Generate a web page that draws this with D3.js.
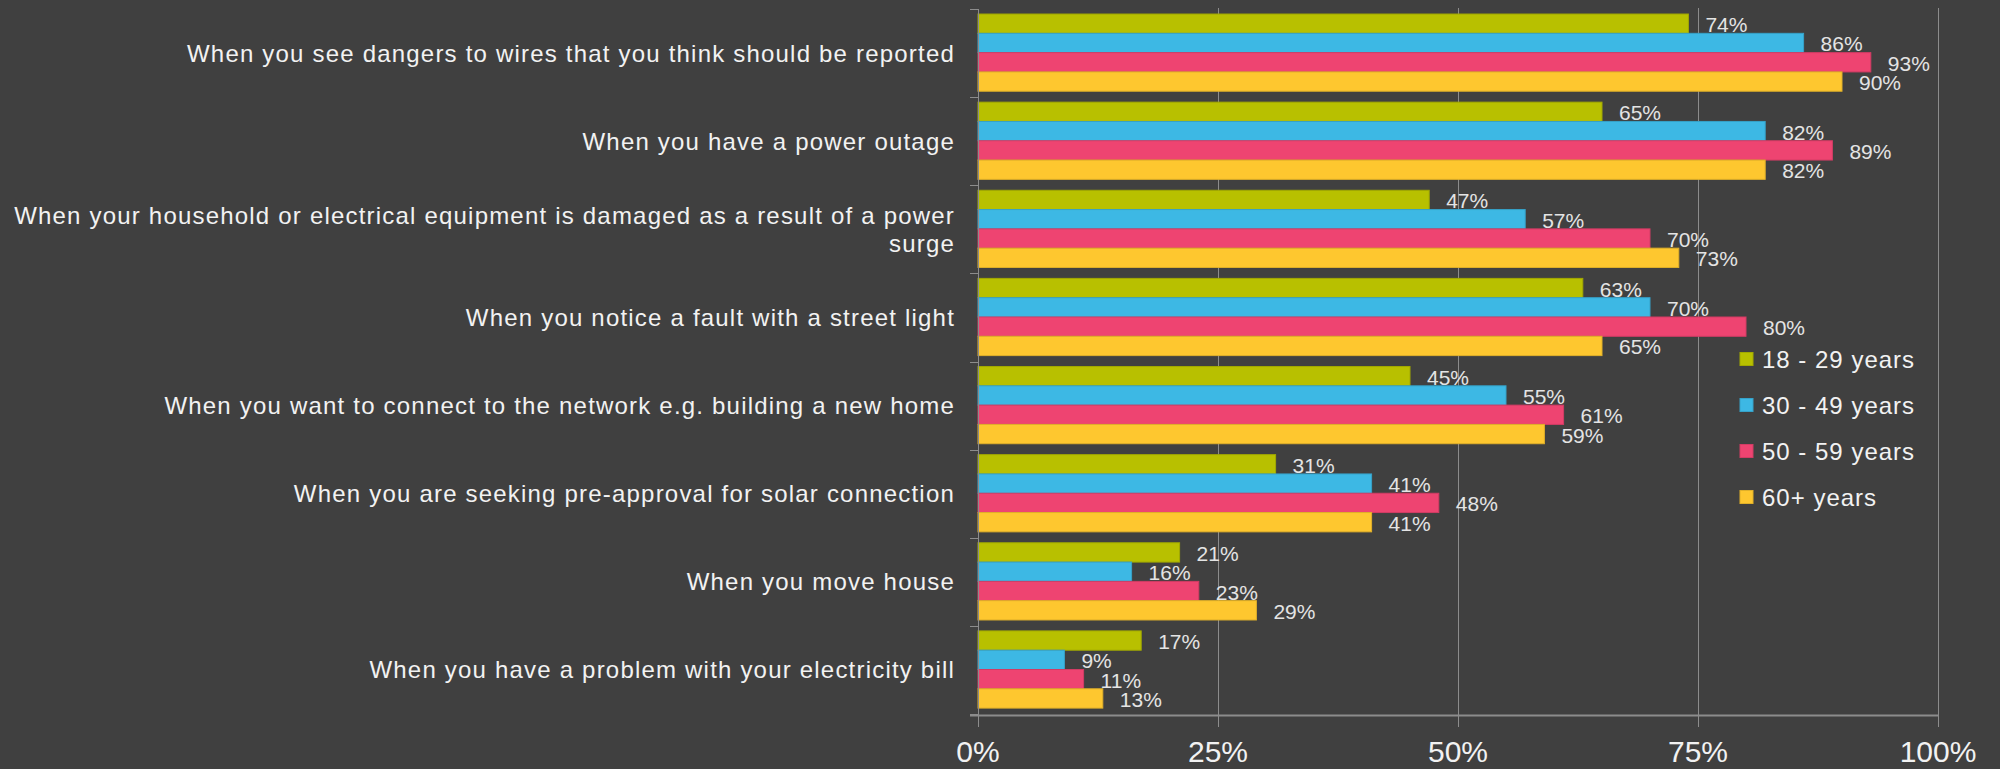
<!DOCTYPE html>
<html>
<head>
<meta charset="utf-8">
<script src="https://cdn.jsdelivr.net/npm/d3@7"></script>
<style>
  html, body { margin: 0; padding: 0; background: #404040; }
  svg { display: block; }
</style>
</head>
<body>
<svg id="chart" width="2000" height="769"></svg>
<script>
// Reasons for contacting the network operator, by age group (% of respondents)
const categories = [
  "When you see dangers to wires that you think should be reported",
  "When you have a power outage",
  "When your household or electrical equipment is damaged as a result of a power surge",
  "When you notice a fault with a street light",
  "When you want to connect to the network e.g. building a new home",
  "When you are seeking pre-approval for solar connection",
  "When you move house",
  "When you have a problem with your electricity bill"
];
const seriesNames = ["18 - 29 years", "30 - 49 years", "50 - 59 years", "60+ years"];
const age18to29 = [74, 65, 47, 63, 45, 31, 21, 17];
const age30to49 = [86, 82, 57, 70, 55, 41, 16, 9];
const age50to59 = [93, 89, 70, 80, 61, 48, 23, 11];
const age60plus = [90, 82, 73, 65, 59, 41, 29, 13];
const xTicks = [0, 25, 50, 75, 100];
const colors = ["#b8c000", "#3db8e4", "#ee4471", "#fec72f"];

const seriesValues = [age18to29, age30to49, age50to59, age60plus];

const svg = d3.select("#chart");
const W = 2000, H = 769;
svg.append("rect").attr("width", W).attr("height", H).attr("fill", "#404040");

const x = d3.scaleLinear().domain([0, 100]).range([978, 1938]);
const y = d3.scaleBand().domain(categories).range([9, 714]).paddingInner(0).paddingOuter(0);
const bw = y.bandwidth();
const yInner = d3.scaleBand().domain(seriesNames).range([bw * 0.057, bw * 0.933]);

const axisColor = "#8c8c8c";
const font = "Arial, 'Liberation Sans', sans-serif";

// vertical gridlines, running below the axis as tick marks
svg.append("g").selectAll("line").data(xTicks.slice(1)).join("line")
  .attr("x1", d => Math.round(x(d)) + 0.5).attr("x2", d => Math.round(x(d)) + 0.5)
  .attr("y1", 8).attr("y2", 727)
  .attr("stroke", axisColor).attr("stroke-width", 1);

// bars
const rows = categories.map((c, i) => ({ c, vals: seriesValues.map((s, k) => ({ name: seriesNames[k], v: s[i], k })) }));
const groups = svg.append("g").selectAll("g").data(rows).join("g")
  .attr("transform", d => `translate(0,${y(d.c)})`);

groups.selectAll("rect").data(d => d.vals).join("rect")
  .attr("x", x(0))
  .attr("y", d => yInner(d.name))
  .attr("width", d => x(d.v) - x(0))
  .attr("height", yInner.bandwidth())
  .attr("fill", d => colors[d.k])
  .attr("stroke", d => d3.color(colors[d.k]).darker(0.35))
  .attr("stroke-width", 1);

// value labels
groups.selectAll("text").data(d => d.vals).join("text")
  .attr("x", d => x(d.v) + 17)
  .attr("y", d => yInner(d.name) + yInner.bandwidth() / 2 + 8.5)
  .attr("fill", "#e4e4e4")
  .attr("font-family", font)
  .attr("font-size", 21)
  .text(d => d.v + "%");

// left axis line with category ticks
svg.append("line")
  .attr("x1", x(0) + 0.5).attr("x2", x(0) + 0.5).attr("y1", 9).attr("y2", 727)
  .attr("stroke", axisColor).attr("stroke-width", 1);
const boundaries = categories.map(c => y(c)).concat([y.range()[1]]);
svg.append("g").selectAll("line").data(boundaries).join("line")
  .attr("x1", 970).attr("x2", x(0))
  .attr("y1", d => Math.round(d) + 0.5).attr("y2", d => Math.round(d) + 0.5)
  .attr("stroke", axisColor).attr("stroke-width", 1);

// bottom axis line
svg.append("line")
  .attr("x1", 970).attr("x2", x(100) + 1).attr("y1", 715.5).attr("y2", 715.5)
  .attr("stroke", axisColor).attr("stroke-width", 2);

// x tick labels
svg.append("g").selectAll("text").data(xTicks).join("text")
  .attr("x", d => x(d)).attr("y", 762)
  .attr("text-anchor", "middle")
  .attr("fill", "#f2f2f2")
  .attr("font-family", font)
  .attr("font-size", 30)
  .text(d => d + "%");

// category labels, wrapped to the space left of the axis
const labelRight = 955, maxWidth = 950, lineH = 28;
const catLabels = svg.append("g").selectAll("text").data(categories).join("text")
  .attr("text-anchor", "end")
  .attr("fill", "#f2f2f2")
  .attr("font-family", font)
  .attr("font-size", 24)
  .attr("letter-spacing", 1.2);

catLabels.each(function(c) {
  const t = d3.select(this);
  const words = c.split(" ");
  const lines = [];
  let line = [];
  const probe = t.append("tspan");
  words.forEach(w => {
    const test = line.concat([w]).join(" ");
    probe.text(test);
    if (probe.node().getComputedTextLength() > maxWidth && line.length) {
      lines.push(line.join(" "));
      line = [w];
    } else {
      line.push(w);
    }
  });
  lines.push(line.join(" "));
  probe.remove();
  const cy = y(c) + bw / 2;
  const firstBase = cy + 8.5 - (lines.length - 1) * lineH / 2;
  lines.forEach((l, i) => {
    t.append("tspan").attr("x", labelRight).attr("y", firstBase + i * lineH).text(l);
  });
});

// legend
const legend = svg.append("g").selectAll("g").data(seriesNames).join("g")
  .attr("transform", (d, i) => `translate(1740,${359 + i * 46})`);
legend.append("rect")
  .attr("x", 0).attr("y", -6.5).attr("width", 13).attr("height", 13)
  .attr("fill", (d, i) => colors[i])
  .attr("stroke", (d, i) => d3.color(colors[i]).darker(0.35));
legend.append("text")
  .attr("x", 22).attr("y", 8.5)
  .attr("fill", "#f2f2f2")
  .attr("font-family", font)
  .attr("font-size", 24)
  .attr("letter-spacing", 1)
  .text(d => d);
</script>
</body>
</html>
